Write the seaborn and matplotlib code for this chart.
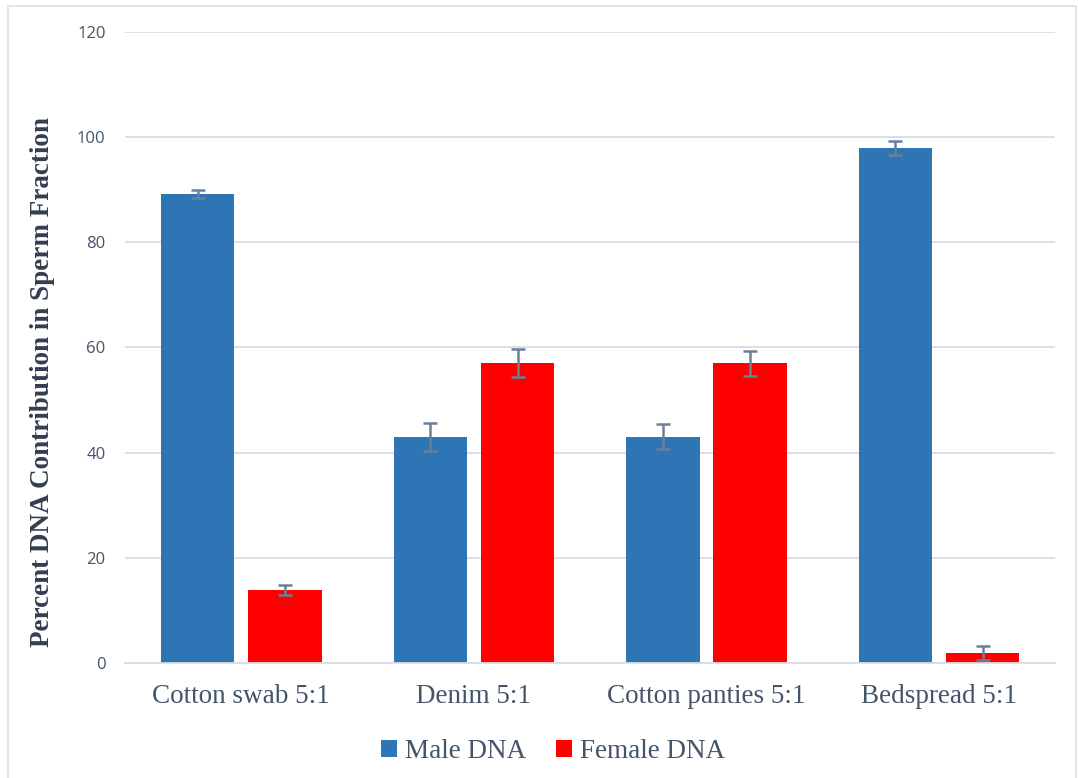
import matplotlib
matplotlib.use("Agg")
import matplotlib.pyplot as plt
import seaborn as sns
import pandas as pd
import numpy as np
from matplotlib.patches import Rectangle

categories = ["Cotton swab 5:1", "Denim 5:1", "Cotton panties 5:1", "Bedspread 5:1"]
series = ["Male DNA", "Female DNA"]
male_values = [89.2, 43.0, 43.0, 97.9]
female_values = [13.9, 57.0, 57.0, 1.9]
male_errors = [0.8, 2.7, 2.4, 1.4]
female_errors = [0.9, 2.7, 2.4, 1.4]
y_ticks = [0, 20, 40, 60, 80, 100, 120]

colors = {"Male DNA": "#2E75B6", "Female DNA": "#FF0000"}
text_color = "#44546A"
grid_color = "#D9DDE3"

df = pd.DataFrame({
    "category": categories * 2,
    "series": [series[0]] * len(categories) + [series[1]] * len(categories),
    "value": male_values + female_values,
})

sns.set_theme(style="white")
plt.rcParams["font.family"] = ["Liberation Serif", "DejaVu Serif"]

fig = plt.figure(figsize=(10.78, 7.78), dpi=100)
ax = fig.add_axes([0.116, 0.148, 0.863, 0.811])

sns.barplot(data=df, x="category", y="value", hue="series", order=categories,
            hue_order=series, palette=colors, width=0.75, gap=0.16,
            saturation=1, errorbar=None, ax=ax, zorder=2, linewidth=0)

# error bars on each bar, centred from the drawn patches
errs = {"Male DNA": male_errors, "Female DNA": female_errors}
for container, name in zip(ax.containers, series):
    for patch, err in zip(container.patches, errs[name]):
        cx = patch.get_x() + patch.get_width() / 2
        h = patch.get_height()
        ax.errorbar(cx, h, yerr=err, fmt="none", ecolor="#6B7F99",
                    elinewidth=1.8, capsize=5, capthick=1.8, zorder=3)

ax.set_ylim(0, 120)
ax.set_xlim(-0.5, 3.5)
ax.set_yticks(y_ticks)
ax.set_yticklabels([str(t) for t in y_ticks], family="Open Sans",
                   fontsize=12, color=text_color)
ax.tick_params(axis="y", length=0, pad=14)
ax.tick_params(axis="x", length=0, pad=15, labelsize=19.5, labelcolor=text_color)
ax.set_xlabel("")
ax.set_ylabel("Percent DNA Contribution in Sperm Fraction", fontsize=19.5,
              fontweight="bold", color="#333F50")
ax.yaxis.set_label_coords(-0.089, 0.445)
ax.yaxis.label.set_va("center")
ax.yaxis.grid(True, color=grid_color, linewidth=1.3, zorder=0)
ax.set_axisbelow(True)
for side in ["top", "right", "left"]:
    ax.spines[side].set_visible(False)
ax.spines["bottom"].set_color(grid_color)
ax.spines["bottom"].set_linewidth(1.3)

handles, labels = ax.get_legend_handles_labels()
ax.legend(handles, labels, loc="upper center", bbox_to_anchor=(0.46, -0.082),
          ncol=2, frameon=False, fontsize=19.5, handlelength=0.6, handleheight=0.6,
          handletextpad=0.3, columnspacing=1.1, labelcolor=text_color)

# light outer frame of the chart area
fig.patches.append(Rectangle((8 / 1078, -0.01), 1068 / 1078, 1 - 6 / 778 + 0.01,
                             transform=fig.transFigure, fill=False,
                             edgecolor="#DCE0E6", linewidth=1.2))

fig.savefig("out.png", dpi=100)
